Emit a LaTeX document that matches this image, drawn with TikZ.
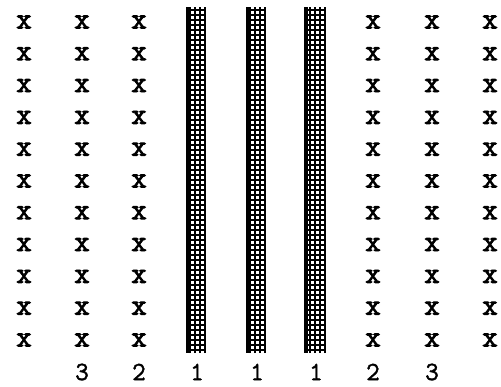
\documentclass[tikz,border=0pt]{standalone}
\usepackage{fontspec}
\newfontfamily\heavytt[FakeBold=3]{Latin Modern Mono}
\newfontfamily\semitt[FakeBold=1.5]{Latin Modern Mono}
\begin{document}
\begin{tikzpicture}[x=0.02cm,y=-0.02cm]
        \tikzset{
            xmark/.style={font=\fontsize{17}{17}\selectfont\heavytt, inner sep=0pt},
            count/.style={font=\fontsize{15}{15}\selectfont\semitt, inner sep=0pt},
            bargrid/.style={line width=0.7pt, xstep=0.1cm, ystep=0.1cm},
            baredge/.style={line width=1.8pt}
        }
        \useasboundingbox (0,0) rectangle (501,386);

        % Crocette
        \foreach \c/\xx in {a/24,b/82,c/139,d/373,e/432,f/490}{
            \foreach \r in {0,...,10}{
                \node[xmark] (\c\r) at (\xx,{22+31.8*\r}) {x};
            }
        }

        % Barre
        \foreach \b/\xl/\xr in {p/188/206,q/248/266,r/306/326}{
            \coordinate (\b top) at (\xl,7);
            \coordinate (\b bot) at (\xr,353);
            \draw[bargrid] (\b top) grid (\b bot);
            \draw[baredge] (\b top) -- (\xl,353);
        }

        % Numeri
        \foreach \n/\xx/\t in {l1/82/3,l2/139/2,l3/197/1,l4/257/1,l5/316/1,l6/373/2,l7/432/3}{
            \node[count] (\n) at (\xx,372) {\t};
        }
    \end{tikzpicture}
\end{document}
